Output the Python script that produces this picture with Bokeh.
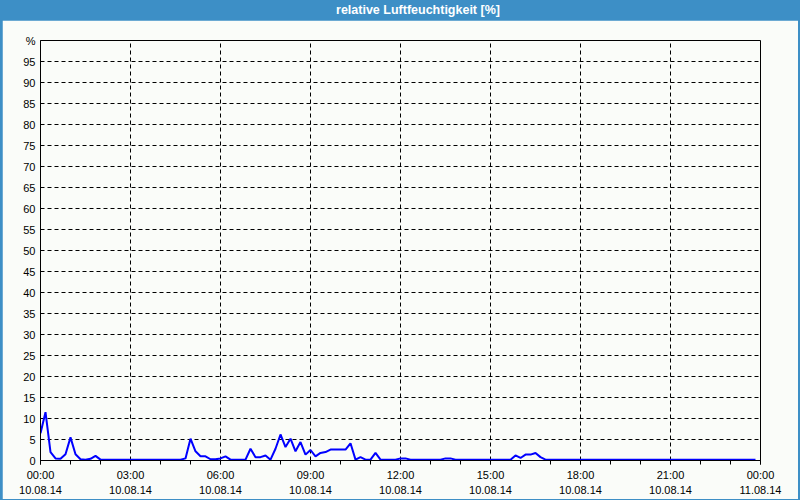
import pandas as pd
from bokeh.plotting import figure
from bokeh.models import Range1d, FixedTicker, DatetimeTickFormatter, Div
from bokeh.layouts import column
from bokeh.embed import file_html
from bokeh.resources import INLINE

# ---- data (10-minute values, 10.08.14) ----
start_time = "2014-08-10 00:00"
end_time = "2014-08-11 00:00"
humidity = [
    6.5, 11.5, 2.0, 0.5, 0.4, 1.5, 5.5, 1.5, 0.3, 0.2, 0.4, 1.1,   # 00:00-01:50
    0.2, 0.2, 0.2, 0.2, 0.2, 0.2, 0.2, 0.2, 0.2, 0.2, 0.2, 0.2,    # 02:00-03:50
    0.2, 0.2, 0.2, 0.2, 0.2, 0.5, 5.2, 2.2, 1.0, 1.0, 0.3, 0.3,    # 04:00-05:50
    0.5, 1.0, 0.2, 0.2, 0.2, 0.2, 2.8, 0.8, 0.8, 1.2, 0.2, 2.8,    # 06:00-07:50
    6.2, 3.2, 5.2, 2.2, 4.4, 1.4, 2.5, 1.0, 1.8, 2.0, 2.6, 2.6,    # 08:00-09:50
    2.6, 2.6, 4.1, 0.2, 0.8, 0.2, 0.2, 1.8, 0.2, 0.2, 0.2, 0.2,    # 10:00-11:50
    0.5, 0.5, 0.2, 0.2, 0.2, 0.2, 0.2, 0.2, 0.2, 0.5, 0.5, 0.2,    # 12:00-13:50
    0.2, 0.2, 0.2, 0.2, 0.2, 0.2, 0.2, 0.2, 0.2, 0.2, 0.2, 1.2,    # 14:00-15:50
    0.6, 1.4, 1.4, 1.8, 0.8, 0.2, 0.2, 0.2, 0.2, 0.2, 0.2, 0.2,    # 16:00-17:50
    0.2, 0.2, 0.2, 0.2, 0.2, 0.2, 0.2, 0.2, 0.2, 0.2, 0.2, 0.2,    # 18:00-19:50
    0.2, 0.2, 0.2, 0.2, 0.2, 0.2, 0.2, 0.2, 0.2, 0.2, 0.2, 0.2,    # 20:00-21:50
    0.2, 0.2, 0.2, 0.2, 0.2, 0.2, 0.2, 0.2, 0.2, 0.2, 0.2, 0.2,    # 22:00-23:50
]
grid_ticks = [5, 10, 15, 20, 25, 30, 35, 40, 45, 50, 55, 60, 65, 70, 75, 80, 85, 90, 95]
y_ticks = [0] + grid_ticks + [100]
title_text = "relative Luftfeuchtigkeit [%]"
unit_text = "%"

times = pd.date_range(start_time, periods=len(humidity), freq="10min")
t0 = pd.Timestamp(start_time)
t1 = pd.Timestamp(end_time)

def ms(t):
    return t.value / 1e6

major_x = [ms(t) for t in pd.date_range(start_time, end_time, freq="3h")]
minor_x = [ms(t) for t in pd.date_range(start_time, end_time, freq="1h")]

BLUE = "#3d8fc6"
BG = "#fafcf9"
FONT = "Liberation Sans"

p = figure(width=796, height=478, x_axis_type="datetime",
           output_backend="svg", toolbar_location=None,
           frame_width=720, frame_height=420,
           min_border_left=38, min_border_right=38,
           min_border_top=20, min_border_bottom=38,
           margin=(0, 2, 2, 2))
p.x_range = Range1d(ms(t0), ms(t1))
p.y_range = Range1d(0, 100)
p.background_fill_color = BG
p.border_fill_color = BG
p.outline_line_color = "black"
p.outline_line_width = 1

p.line(times, humidity, line_color="#0000ff", line_width=2)

# x axis
xa = p.xaxis[0]
xa.ticker = FixedTicker(ticks=major_x, minor_ticks=minor_x)
fmt = "%H:%M\n%d.%m.%y"
xa.formatter = DatetimeTickFormatter(
    microseconds=fmt, milliseconds=fmt, seconds=fmt, minsec=fmt, minutes=fmt,
    hourmin=fmt, hours=fmt, days=fmt, months=fmt, years=fmt)
xa.axis_line_color = "black"
xa.major_tick_line_color = "black"
xa.minor_tick_line_color = "black"
xa.major_tick_in = 0
xa.major_tick_out = 4
xa.minor_tick_in = 0
xa.minor_tick_out = 4
xa.major_label_standoff = 4
xa.major_label_text_font = FONT
xa.major_label_text_font_size = "11px"
xa.major_label_text_color = "black"
xa.major_label_text_line_height = 1.3

# y axis
ya = p.yaxis[0]
ya.ticker = FixedTicker(ticks=y_ticks, minor_ticks=[])
ya.major_label_overrides = {100: unit_text}
ya.axis_line_color = "black"
ya.major_tick_in = 0
ya.major_tick_out = 0
ya.minor_tick_in = 0
ya.minor_tick_out = 0
ya.major_label_standoff = 5
ya.major_label_text_font = FONT
ya.major_label_text_font_size = "11px"
ya.major_label_text_color = "black"

# grids
p.xgrid.ticker = FixedTicker(ticks=major_x)
p.ygrid.ticker = FixedTicker(ticks=grid_ticks)
for g in (p.xgrid[0], p.ygrid[0]):
    g.grid_line_color = "black"
    g.grid_line_dash = "4 3"
    g.grid_line_width = 1
    g.grid_line_alpha = 1.0

title = Div(text=title_text, width=800, height=20, margin=(0, 0, 0, 0),
            styles={"color": "white", "font-family": FONT, "font-weight": "bold",
                    "font-size": "12.5px", "line-height": "20px",
                    "text-align": "center", "padding-left": "36px",
                    "box-sizing": "border-box", "overflow": "hidden"})

layout = column(title, p, spacing=0, margin=(0, 0, 0, 0),
                styles={"background-color": BLUE})

open("out.html", "w").write(file_html(layout, INLINE))
